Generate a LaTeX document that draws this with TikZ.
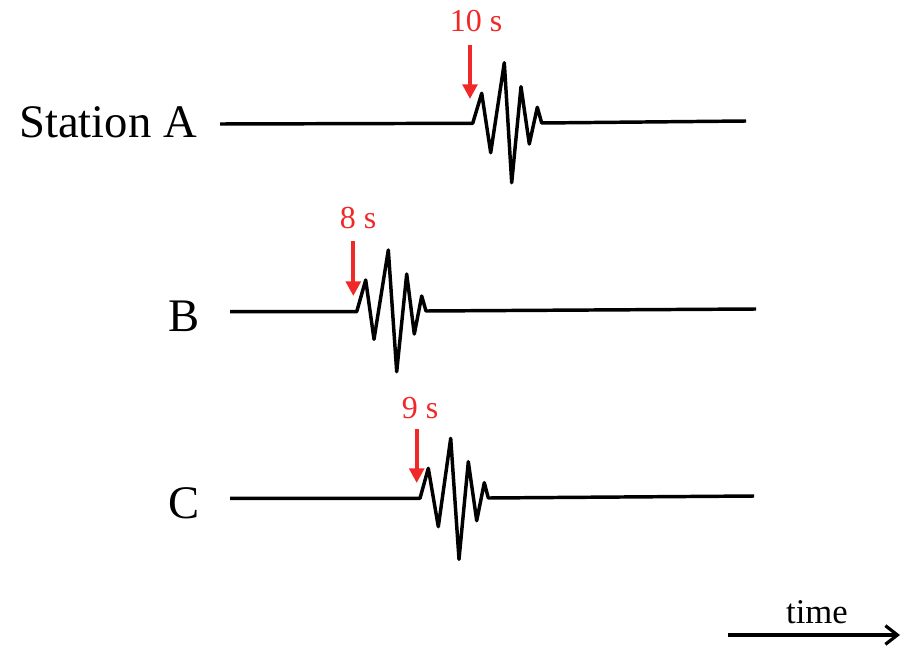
\documentclass[tikz,border=0pt]{standalone}
\usepackage{fontspec}
\setmainfont{Liberation Serif}
\usetikzlibrary{arrows.meta}
\definecolor{lblred}{RGB}{240,40,40}
\tikzset{
  wave/.style={line width=2.6pt, line join=round},
  pick/.style={lblred, line width=3.2pt, -{Triangle[length=11pt,width=11pt]}},
  picklbl/.style={lblred, font=\fontsize{24}{28}\selectfont, inner sep=0pt},
  stlbl/.style={font=\fontsize{35}{40}\selectfont, inner sep=0pt},
}
\begin{document}
\begin{tikzpicture}[x=0.75pt,y=-0.75pt]
\useasboundingbox (0,0) rectangle (902,649);
% Station A
\node[stlbl, anchor=east] (la) at (197,122) {Station A};
\draw[wave] (220,124) -- (472.7,123.3) -- (481.7,93.3) -- (490.7,152.7) -- (504.3,62.7) -- (511.7,182.7) -- (521,86.7) -- (529.3,144) -- (537.3,107.3) -- (541.7,123) -- (746,121);
\node[picklbl] (ta) at (476,21) {10 s};
\coordinate (ha) at (470,45);
\coordinate (pa) at (470,99);
\draw[pick] (ha) -- (pa);
% B
\node[stlbl, anchor=east] (lb) at (200,316) {B};
\draw[wave] (230,311.7) -- (356.7,311.7) -- (365.7,280) -- (374,339.3) -- (388.3,250) -- (396.7,371.7) -- (406.7,274) -- (414.3,334) -- (421.7,296) -- (426,311) -- (756,309);
\node[picklbl] (tb) at (358,218) {8 s};
\coordinate (hb) at (353.3,241);
\coordinate (pb) at (353.3,296);
\draw[pick] (hb) -- (pb);
% C
\node[stlbl, anchor=east] (lc) at (200,503) {C};
\draw[wave] (230,498.3) -- (420,498.3) -- (428.3,468.3) -- (438.3,526.7) -- (450.7,438.3) -- (459,559.3) -- (468.3,461.7) -- (476.7,520.7) -- (484.3,482.7) -- (488.3,498) -- (754,496);
\node[picklbl] (tc) at (420,408) {9 s};
\coordinate (hc) at (416.7,429);
\coordinate (pc) at (416.7,483);
\draw[pick] (hc) -- (pc);
% time axis
\node[font=\fontsize{26}{30}\selectfont, inner sep=0pt] (tl) at (817,612) {time};
\coordinate (t0) at (728,635);
\coordinate (t1) at (900,635);
\draw[line width=2.6pt, -{Straight Barb[length=9pt,width=14pt,line width=2.4pt]}] (t0) -- (t1);
\end{tikzpicture}
\end{document}
